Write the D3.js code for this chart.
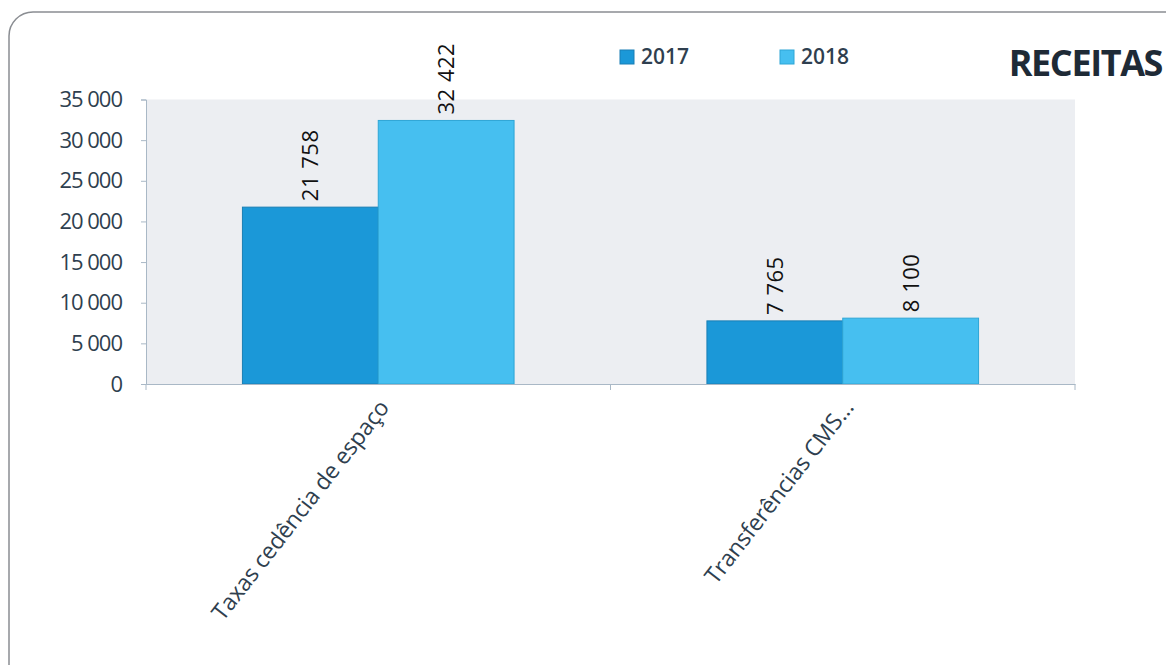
<!DOCTYPE html>
<html>
<head>
<meta charset="utf-8">
<script src="https://cdn.jsdelivr.net/npm/d3@7"></script>
<style>
  html, body { margin: 0; padding: 0; background: #fff; }
  svg { display: block; font-family: "Open Sans", "Noto Sans", sans-serif; }
  svg text { font-family: "Open Sans", "Noto Sans", sans-serif; }
</style>
</head>
<body>
<svg id="chart" width="1166" height="665"></svg>
<script>
const categories = ["Taxas cedência de espaço", "Transferências CMS..."];
const seriesNames = ["2017", "2018"];
const values2017 = [21758, 7765];
const values2018 = [32422, 8100];
const yTicks = [0, 5000, 10000, 15000, 20000, 25000, 30000, 35000];
const title = "RECEITAS";

const colors = { "2017": "#1b98d8", "2018": "#46bff0" };
const strokes = { "2017": "#1a7fb5", "2018": "#2ea6d6" };
const textColor = "#2f3f4f";

const svg = d3.select("#chart");
const margin = { left: 146, right: 1075, top: 99.5, bottom: 384 };

// frame
svg.append("rect")
  .attr("x", 9).attr("y", 12)
  .attr("width", 1180).attr("height", 690)
  .attr("rx", 24).attr("ry", 24)
  .attr("fill", "none").attr("stroke", "#8a8d92").attr("stroke-width", 1.5);

const x0 = d3.scaleBand().domain(categories).range([margin.left, margin.right]).paddingInner(0).paddingOuter(0);
const x1 = d3.scaleBand().domain(seriesNames).range([0, x0.bandwidth()]).paddingOuter(0.71).paddingInner(0);
const y = d3.scaleLinear().domain([0, 35000]).range([margin.bottom, margin.top]);

// plot background
svg.append("rect")
  .attr("x", margin.left).attr("y", margin.top)
  .attr("width", margin.right - margin.left).attr("height", margin.bottom - margin.top)
  .attr("fill", "#eceef2");

const fmt = v => d3.format(",")(v).replace(/,/g, " ");

// y axis
const yAxis = d3.axisLeft(y).tickValues(yTicks).tickSize(5).tickFormat(fmt);
const gy = svg.append("g").attr("transform", `translate(${margin.left},0)`).call(yAxis);
gy.attr("font-family", null);
gy.select(".domain").attr("stroke", "#a9b8c6");
gy.selectAll(".tick line").attr("stroke", "#a9b8c6");
gy.selectAll(".tick text").attr("fill", textColor).attr("font-size", 22).attr("x", -24).attr("letter-spacing", -1);

// bars
const data = categories.map((c, i) => ({ cat: c, vals: [
  { s: "2017", v: values2017[i] }, { s: "2018", v: values2018[i] } ] }));

const groups = svg.append("g").selectAll("g").data(data).join("g")
  .attr("transform", d => `translate(${x0(d.cat)},0)`);

groups.selectAll("rect").data(d => d.vals).join("rect")
  .attr("x", d => x1(d.s))
  .attr("y", d => y(d.v))
  .attr("width", x1.bandwidth())
  .attr("height", d => y(0) - y(d.v))
  .attr("fill", d => colors[d.s])
  .attr("stroke", d => strokes[d.s]).attr("stroke-width", 1);

groups.selectAll("text").data(d => d.vals).join("text")
  .attr("transform", d => `translate(${x1(d.s) + x1.bandwidth() / 2 + 8},${y(d.v) - 6}) rotate(-90)`)
  .attr("text-anchor", "start")
  .attr("fill", "#111")
  .attr("font-size", 22)
  .attr("letter-spacing", 0.5)
  .text(d => fmt(d.v));

// x axis
const xAxis = d3.axisBottom(x0).tickSize(0).tickFormat("");
const gx = svg.append("g").attr("transform", `translate(0,${margin.bottom})`).call(xAxis);
gx.select(".domain").attr("stroke", "#a9b8c6");
const boundaries = [margin.left, x0(categories[1]), margin.right];
gx.selectAll(".bt").data(boundaries).join("line").attr("class", "bt")
  .attr("x1", d => d).attr("x2", d => d).attr("y1", 0).attr("y2", 6)
  .attr("stroke", "#a9b8c6");

// category labels
svg.append("g").selectAll("text").data(categories).join("text")
  .attr("transform", d => `translate(${x0(d) + x0.bandwidth() / 2 + 12},${margin.bottom + 24}) rotate(-52)`)
  .attr("text-anchor", "end")
  .attr("fill", textColor)
  .attr("font-size", 23)
  .attr("letter-spacing", -0.2)
  .text(d => d);

// legend
const legend = svg.append("g").selectAll("g").data(seriesNames).join("g")
  .attr("transform", (d, i) => `translate(${620 + i * 160},48)`);
legend.append("rect").attr("x", 0).attr("y", 2).attr("width", 14).attr("height", 14)
  .attr("fill", d => colors[d]).attr("stroke", d => strokes[d]);
legend.append("text").attr("x", 21).attr("y", 16)
  .attr("fill", textColor).attr("font-size", 21).attr("font-weight", 600)
  .text(d => d);

// title
svg.append("text").attr("x", 1162).attr("y", 76).attr("text-anchor", "end")
  .attr("fill", "#1e2a36").attr("font-size", 36).attr("font-weight", 700)
  .attr("letter-spacing", -1.4)
  .text(title);
</script>
</body>
</html>
